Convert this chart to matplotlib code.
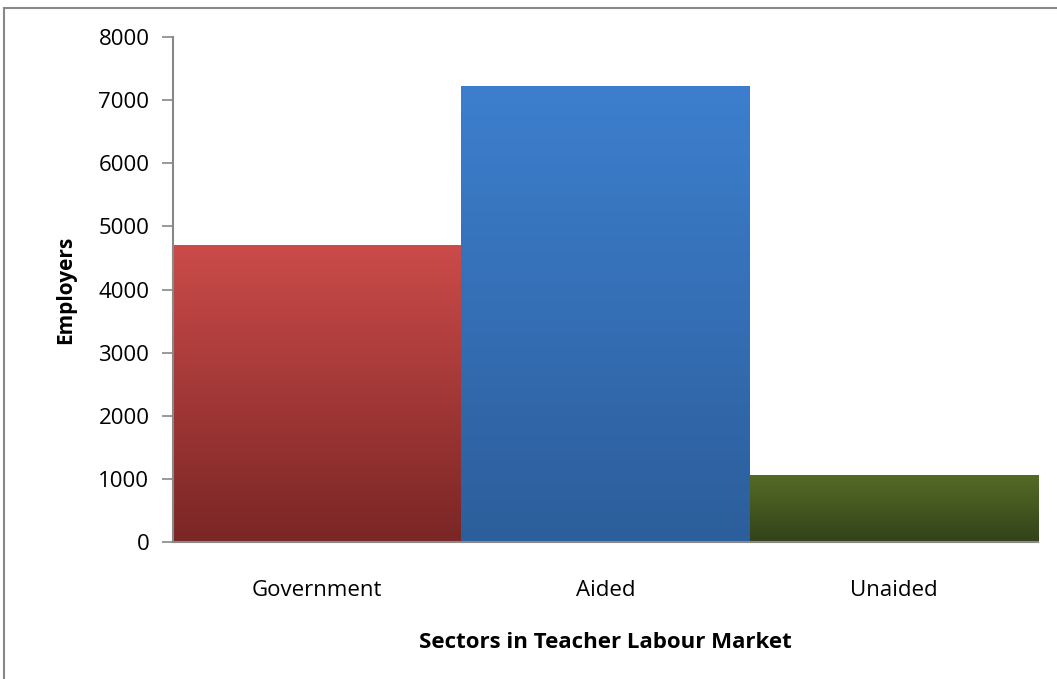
import numpy as np
import matplotlib
matplotlib.use('Agg')
import matplotlib.pyplot as plt
from matplotlib.colors import LinearSegmentedColormap
from matplotlib.lines import Line2D

sectors = ['Government', 'Aided', 'Unaided']
employers = [4700, 7225, 1060]
top_colors = ['#cb4b49', '#3d7fce', '#546b26']
bottom_colors = ['#7a2625', '#2c5e9b', '#33421a']
yticks = [0, 1000, 2000, 3000, 4000, 5000, 6000, 7000, 8000]

plt.rcParams['font.family'] = ['Open Sans', 'DejaVu Sans']

fig = plt.figure(figsize=(10.57, 6.79), dpi=100)
ax = fig.add_axes([173 / 1057, 1 - 542 / 679, 865 / 1057, 505 / 679])

x = np.arange(len(sectors))
bars = ax.bar(x, employers, width=1.0, color='none', edgecolor='none')

# vertical gradient fill for each bar, clipped to the bar rectangle
grad = np.linspace(0, 1, 256).reshape(-1, 1)
for bar, top, bot in zip(bars, top_colors, bottom_colors):
    cmap = LinearSegmentedColormap.from_list('g', [bot, top])
    x0, y0 = bar.get_x(), bar.get_y()
    w, h = bar.get_width(), bar.get_height()
    im = ax.imshow(grad, cmap=cmap, aspect='auto', origin='lower',
                   extent=[x0, x0 + w, y0, y0 + h], zorder=2)
    im.set_clip_path(bar)

ax.set_xlim(-0.5, 2.5)
ax.set_ylim(0, 8000)
ax.set_yticks(yticks)
ax.set_yticklabels([str(t) for t in yticks], fontsize=16)
ax.set_xticks(x)
ax.set_xticklabels(sectors, fontsize=16)
ax.tick_params(axis='y', length=8, width=1.2, color='#888888', pad=9)
ax.tick_params(axis='x', length=0, pad=27)

for side in ['top', 'right']:
    ax.spines[side].set_visible(False)
for side in ['left', 'bottom']:
    ax.spines[side].set_color('#888888')
    ax.spines[side].set_linewidth(1.5)

ax.set_ylabel('Employers', fontsize=15, fontweight='bold', labelpad=16)
ax.set_xlabel('Sectors in Teacher Labour Market', fontsize=16,
              fontweight='bold', labelpad=23)

# outer frame lines
fig.add_artist(Line2D([4 / 1057, 1], [1 - 8 / 679, 1 - 8 / 679],
                      transform=fig.transFigure, color='#888888', lw=1.5))
fig.add_artist(Line2D([4 / 1057, 4 / 1057], [0, 1 - 8 / 679],
                      transform=fig.transFigure, color='#888888', lw=1.5))

fig.savefig('out.png', dpi=100)
